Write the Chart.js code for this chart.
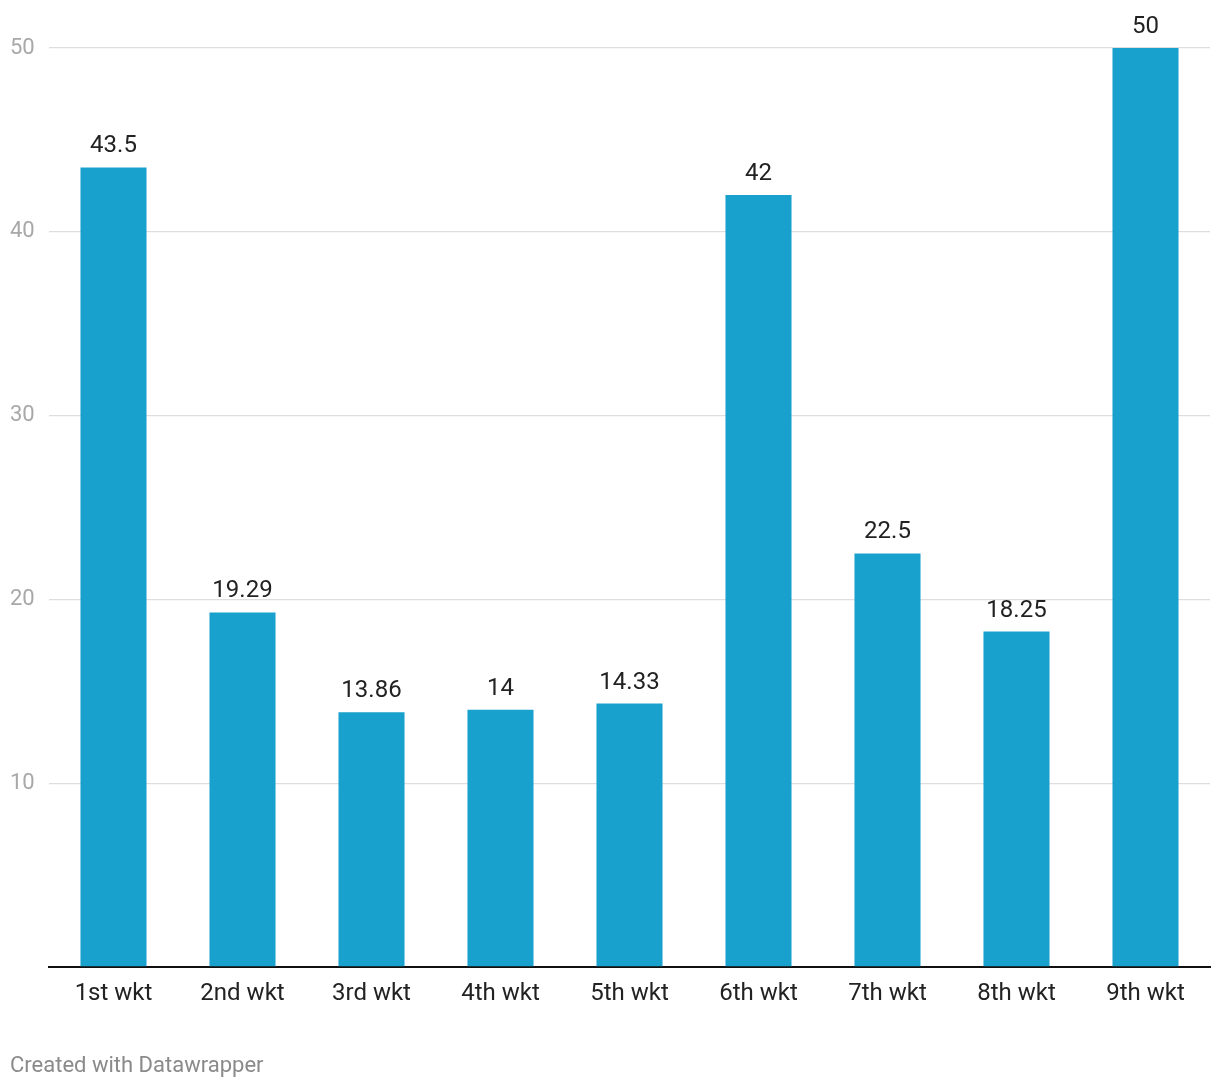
<!DOCTYPE html>
<html>
<head>
<meta charset="utf-8">
<script src="https://cdn.jsdelivr.net/npm/chart.js@4"></script>
<style>
  html, body { margin: 0; padding: 0; background: #fff; }
  #wrap { position: relative; width: 1220px; height: 1088px; }
  #footer { position: absolute; left: 10px; top: 1050px; font-family: Roboto, sans-serif; font-size: 22px; color: #8a8a8a; line-height: 30px; }
</style>
</head>
<body>
<div id="wrap">
  <canvas id="c" width="1220" height="1088"></canvas>
  <div id="footer">Created with Datawrapper</div>
</div>
<script>
const categories = ["1st wkt", "2nd wkt", "3rd wkt", "4th wkt", "5th wkt", "6th wkt", "7th wkt", "8th wkt", "9th wkt"];
const values = [43.5, 19.29, 13.86, 14, 14.33, 42, 22.5, 18.25, 50];
const yTicks = [0, 10, 20, 30, 40, 50];

const valueLabels = {
  id: 'valueLabels',
  afterDatasetsDraw(chart) {
    const ctx = chart.ctx;
    const meta = chart.getDatasetMeta(0);
    ctx.save();
    ctx.font = '24px Roboto, sans-serif';
    ctx.fillStyle = '#222222';
    ctx.textAlign = 'center';
    ctx.textBaseline = 'middle';
    meta.data.forEach((bar, i) => {
      ctx.fillText(String(values[i]), bar.x, bar.y - 21);
    });
    ctx.restore();
  }
};

new Chart(document.getElementById('c'), {
  type: 'bar',
  data: {
    labels: categories,
    datasets: [{
      data: values,
      backgroundColor: '#18a1cd',
      categoryPercentage: 1,
      barPercentage: 0.512
    }]
  },
  options: {
    responsive: false,
    animation: false,
    layout: { padding: { left: 10, right: 10, top: 48, bottom: 0 } },
    plugins: { legend: { display: false }, tooltip: { enabled: false } },
    scales: {
      x: {
        grid: { display: false, drawTicks: false },
        border: { display: true, color: '#111111', width: 2 },
        ticks: { color: '#222222', font: { family: 'Roboto', size: 24 }, padding: 13 },
        afterFit(scale) { scale.height = 121; }
      },
      y: {
        min: 0, max: 50,
        afterBuildTicks(scale) { scale.ticks = yTicks.map(v => ({ value: v })); },
        grid: { color: '#dedede', lineWidth: 1.3, drawTicks: false },
        border: { display: false },
        ticks: {
          color: '#a8a8a8',
          font: { family: 'Roboto', size: 22 },
          crossAlign: 'far',
          padding: 0,
          callback: (v) => v === 0 ? '' : String(v)
        },
        afterFit(scale) { scale.width = 39; }
      }
    }
  },
  plugins: [valueLabels]
});
</script>
</body>
</html>
